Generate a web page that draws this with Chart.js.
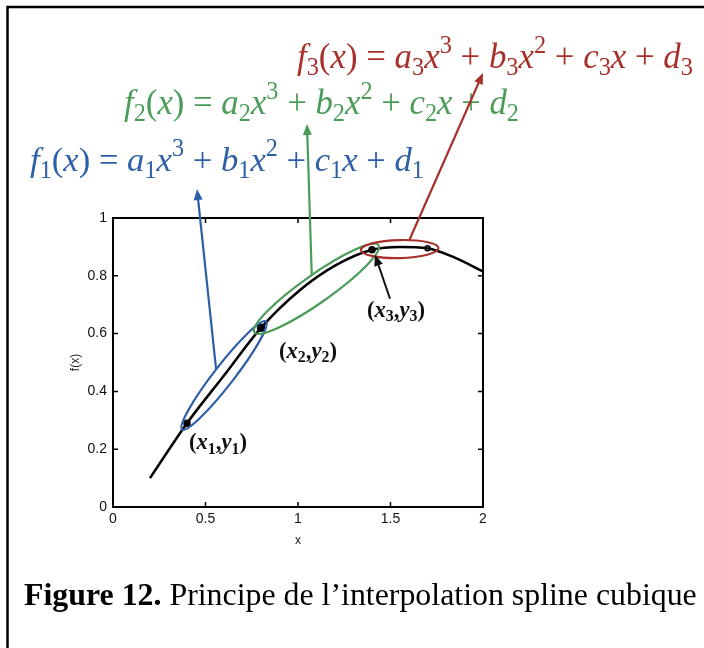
<!DOCTYPE html>
<html>
<head>
<meta charset="utf-8">
<script src="https://cdn.jsdelivr.net/npm/chart.js@4.4.1/dist/chart.umd.min.js"></script>
<style>
  html, body { margin: 0; padding: 0; background: #fff; }
  #wrap { position: relative; width: 704px; height: 648px; }
</style>
</head>
<body>
<div id="wrap"><canvas id="splineCanvas" width="704" height="648"></canvas></div>
<script>
// Sampled curve f(x)
const curveX = [0.2, 0.4, 0.6, 0.8, 1.0, 1.2, 1.4, 1.55, 1.7, 1.85, 2.0];
const curveY = [0.10, 0.29, 0.455, 0.62, 0.745, 0.835, 0.89, 0.90, 0.895, 0.862, 0.815];

// Interpolation knots (x1..x4)
const knotX = [0.4, 0.8, 1.4, 1.7];
const knotY = [0.29, 0.62, 0.89, 0.895];
const knotNames = ["1", "2", "3"];

// Axis ticks
const xTicks = [0, 0.5, 1, 1.5, 2];
const yTicks = [0, 0.2, 0.4, 0.6, 0.8, 1];

// One colour per cubic piece f1, f2, f3
const pieceColors = ["#2d5fa6", "#4a9c58", "#a8302a"];

const SERIF = "'Liberation Serif', 'Times New Roman', serif";
const SANS = "'Liberation Sans', Arial, sans-serif";

// Run = { t: text, it: italic, s: 0 | -1 (subscript) | 1 (superscript) }
function formulaRuns(k) {
  return [
    { t: "f", it: 1 }, { t: k, s: -1 }, { t: "(" }, { t: "x", it: 1 }, { t: ")" }, { t: " = " },
    { t: "a", it: 1 }, { t: k, s: -1 }, { t: "x", it: 1 }, { t: "3", s: 1 }, { t: " + " },
    { t: "b", it: 1 }, { t: k, s: -1 }, { t: "x", it: 1 }, { t: "2", s: 1 }, { t: " + " },
    { t: "c", it: 1 }, { t: k, s: -1 }, { t: "x", it: 1 }, { t: " + " },
    { t: "d", it: 1 }, { t: k, s: -1 },
  ];
}

function pointRuns(k) {
  return [
    { t: "(" }, { t: "x", it: 1 }, { t: k, s: -1 }, { t: "," },
    { t: "y", it: 1 }, { t: k, s: -1 }, { t: ")" },
  ];
}

function runFont(r, size, bold) {
  const sz = r.s ? size * 0.7 : size;
  return (r.it ? "italic " : "") + (bold || r.b ? "bold " : "") + sz + "px " + SERIF;
}

function runsWidth(ctx, runs, size, bold) {
  let w = 0;
  runs.forEach((r) => {
    ctx.font = runFont(r, size, bold);
    w += ctx.measureText(r.t).width;
  });
  return w;
}

// Draws runs starting at x on baseline y; size is scaled so the whole run fits width
function drawRuns(ctx, runs, x, y, width, color, bold) {
  const size = (24 * width) / runsWidth(ctx, runs, 24, bold);
  ctx.fillStyle = color;
  ctx.textBaseline = "alphabetic";
  ctx.textAlign = "left";
  let cx = x;
  runs.forEach((r) => {
    ctx.font = runFont(r, size, bold);
    const dy = r.s === -1 ? size * 0.2 : r.s === 1 ? -size * 0.42 : 0;
    ctx.fillText(r.t, cx, y + dy);
    cx += ctx.measureText(r.t).width;
  });
}

function arrow(ctx, x0, y0, x1, y1, color, width) {
  const ang = Math.atan2(y1 - y0, x1 - x0);
  const head = 11, half = 4.5;
  const bx = x1 - head * Math.cos(ang), by = y1 - head * Math.sin(ang);
  ctx.strokeStyle = color;
  ctx.lineWidth = width;
  ctx.beginPath();
  ctx.moveTo(x0, y0);
  ctx.lineTo(bx, by);
  ctx.stroke();
  ctx.fillStyle = color;
  ctx.beginPath();
  ctx.moveTo(x1, y1);
  ctx.lineTo(bx + half * Math.sin(ang), by - half * Math.cos(ang));
  ctx.lineTo(bx - half * Math.sin(ang), by + half * Math.cos(ang));
  ctx.closePath();
  ctx.fill();
}

// Ellipse around each piece: extension past the knots, half width, arrow shift along axis
const ellipseStyle = [
  { pad: 8, half: 10, along: 0 },
  { pad: 8, half: 14, along: 4 },
  { pad: 11, half: 9, along: 10 },
];
// Arrow tips under each formula, and formula placement
const formulaBox = [
  { x: 30, base: 171, w: 394, tipX: 197, tipY: 189 },
  { x: 124, base: 114, w: 395, tipX: 307, tipY: 124 },
  { x: 297, base: 68, w: 396, tipX: 483, tipY: 73 },
];
// Knot label centres relative to their knot
const labelOffset = [[31, 20], [47, 24], [24, 61]];

const figurePlugin = {
  id: "figure",
  afterDraw(chart) {
    const { ctx, chartArea: a, scales } = chart;
    const px = (i) => scales.x.getPixelForValue(knotX[i]);
    const py = (i) => scales.y.getPixelForValue(knotY[i]);
    ctx.save();

    // plot frame with inward ticks on all four sides
    ctx.strokeStyle = "#000";
    ctx.lineWidth = 2;
    ctx.strokeRect(a.left, a.top, a.right - a.left, a.bottom - a.top);
    ctx.lineWidth = 1.5;
    ctx.beginPath();
    xTicks.slice(1, -1).forEach((v) => {
      const x = scales.x.getPixelForValue(v);
      ctx.moveTo(x, a.bottom); ctx.lineTo(x, a.bottom - 5);
      ctx.moveTo(x, a.top); ctx.lineTo(x, a.top + 5);
    });
    yTicks.slice(1, -1).forEach((v) => {
      const y = scales.y.getPixelForValue(v);
      ctx.moveTo(a.left, y); ctx.lineTo(a.left + 5, y);
      ctx.moveTo(a.right, y); ctx.lineTo(a.right - 5, y);
    });
    ctx.stroke();

    // ellipses around each cubic piece, arrows up to the formulas
    ellipseStyle.forEach((e, i) => {
      const x0 = px(i), y0 = py(i), x1 = px(i + 1), y1 = py(i + 1);
      const ang = Math.atan2(y1 - y0, x1 - x0);
      const len = Math.hypot(x1 - x0, y1 - y0);
      const cx = (x0 + x1) / 2, cy = (y0 + y1) / 2;
      ctx.strokeStyle = pieceColors[i];
      ctx.lineWidth = 2.2;
      ctx.beginPath();
      ctx.ellipse(cx, cy, len / 2 + e.pad, e.half, ang, 0, Math.PI * 2);
      ctx.stroke();

      const sx = cx + e.along * Math.cos(ang) + e.half * Math.sin(ang);
      const sy = cy + e.along * Math.sin(ang) - e.half * Math.cos(ang);
      const f = formulaBox[i];
      arrow(ctx, sx, sy, f.tipX, f.tipY, pieceColors[i], 2.2);
      drawRuns(ctx, formulaRuns(String(i + 1)), f.x, f.base, f.w, pieceColors[i], false);
    });

    // knot labels
    labelOffset.forEach((o, i) => {
      const runs = pointRuns(knotNames[i]);
      const w = 58;
      drawRuns(ctx, runs, px(i) + o[0] - w / 2, py(i) + o[1] + 6, w, "#111", true);
    });
    arrow(ctx, px(2) + 18, py(2) + 49, px(2) + 3, py(2) + 5, "#111", 2);

    // caption
    const cap = [
      { t: "Figure 12.", b: 1 },
      { t: " Principe de l\u2019interpolation spline cubique" },
    ];
    drawRuns(ctx, cap, 24, 605, 673, "#000", false);

    // figure border (left and top)
    ctx.strokeStyle = "#000";
    ctx.lineWidth = 2.5;
    ctx.beginPath();
    ctx.moveTo(7.5, 648);
    ctx.lineTo(7.5, 7);
    ctx.lineTo(704, 7);
    ctx.stroke();
    ctx.restore();
  },
};

const canvas = document.getElementById("splineCanvas");
new Chart(canvas, {
  type: "line",
  data: {
    datasets: [
      {
        data: curveX.map((x, i) => ({ x, y: curveY[i] })),
        borderColor: "#000",
        borderWidth: 2.5,
        pointRadius: 0,
        cubicInterpolationMode: "monotone",
      },
      {
        data: knotX.map((x, i) => ({ x, y: knotY[i] })),
        showLine: false,
        pointRadius: [3, 3.5, 3, 2.5],
        pointBackgroundColor: ["#000", "#000", "#000", "#fff"],
        pointBorderColor: "#000",
        pointBorderWidth: 1.5,
      },
    ],
  },
  options: {
    responsive: false,
    animation: false,
    events: [],
    layout: { padding: { top: 218, right: 221, left: 0, bottom: 0 } },
    plugins: { legend: { display: false }, tooltip: { enabled: false } },
    scales: {
      x: {
        type: "linear",
        min: 0,
        max: 2,
        afterBuildTicks: (s) => { s.ticks = xTicks.map((v) => ({ value: v })); },
        afterFit: (s) => { s.height = 141; },
        grid: { display: false, drawTicks: false },
        border: { display: false },
        ticks: {
          color: "#111",
          padding: 4,
          maxRotation: 0,
          font: { family: SANS, size: 14 },
          callback: (v) => String(v),
        },
        title: {
          display: true,
          text: "x",
          color: "#222",
          font: { family: SANS, size: 12 },
          padding: { top: 0, bottom: 100 },
        },
      },
      y: {
        min: 0,
        max: 1,
        afterBuildTicks: (s) => { s.ticks = yTicks.map((v) => ({ value: v })); },
        afterFit: (s) => { s.width = 113; },
        grid: { display: false, drawTicks: false },
        border: { display: false },
        ticks: {
          color: "#111",
          padding: 6,
          font: { family: SANS, size: 14 },
          callback: (v) => String(v),
        },
        title: {
          display: true,
          text: "f(x)",
          color: "#222",
          font: { family: SANS, size: 12 },
          padding: { top: 68, bottom: 0 },
        },
      },
    },
  },
  plugins: [figurePlugin],
});
</script>
</body>
</html>
